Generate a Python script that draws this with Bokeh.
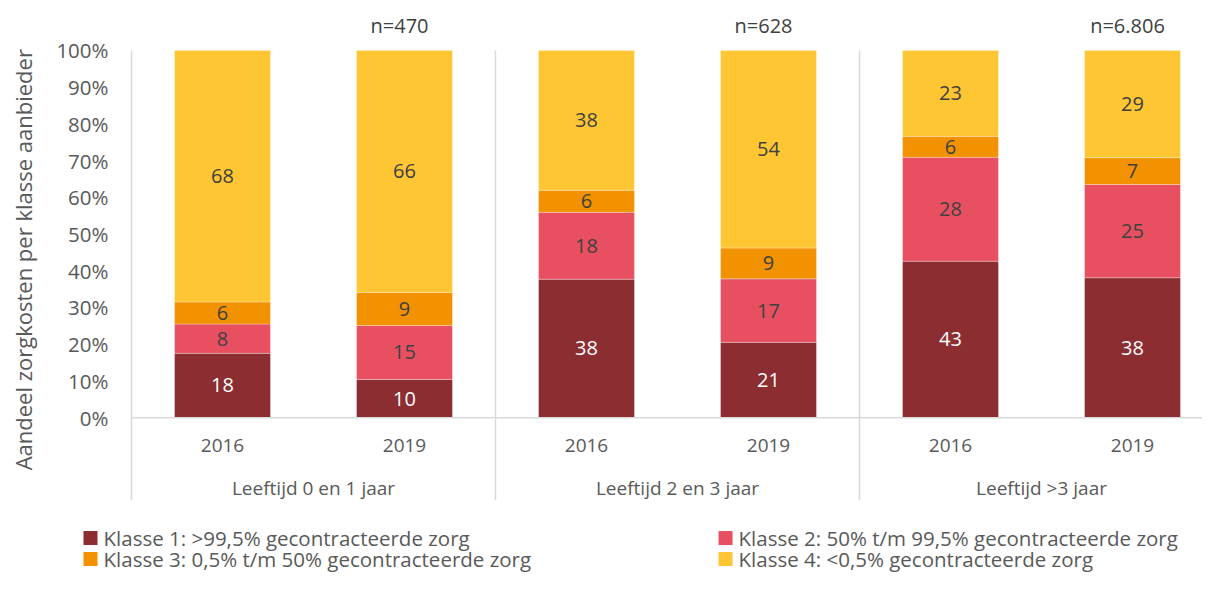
import math
from bokeh.plotting import figure
from bokeh.models import ColumnDataSource, Range1d
from bokeh.core.properties import value
from bokeh.embed import file_html
from bokeh.resources import INLINE

# ---------------- data ----------------
groups = ["Leeftijd 0 en 1 jaar", "Leeftijd 2 en 3 jaar", "Leeftijd >3 jaar"]
years = ["2016", "2019"]
group_n = ["n=470", "n=628", "n=6.806"]
classes = [
    "Klasse 1: >99,5% gecontracteerde zorg",
    "Klasse 2: 50% t/m 99,5% gecontracteerde zorg",
    "Klasse 3: 0,5% t/m 50% gecontracteerde zorg",
    "Klasse 4: <0,5% gecontracteerde zorg",
]
# bar order: g1-2016, g1-2019, g2-2016, g2-2019, g3-2016, g3-2019
klasse1 = [17.5, 10.4, 37.7, 20.5, 42.6, 38.1]
klasse2 = [8.0, 14.7, 18.2, 17.3, 28.3, 25.4]
klasse3 = [6.0, 9.0, 6.0, 8.4, 5.7, 7.3]
klasse4 = [68.5, 65.9, 38.1, 53.8, 23.4, 29.2]
label1 = ["18", "10", "38", "21", "43", "38"]
label2 = ["8", "15", "18", "17", "28", "25"]
label3 = ["6", "9", "6", "9", "6", "7"]
label4 = ["68", "66", "38", "54", "23", "29"]
y_ticks = [0, 10, 20, 30, 40, 50, 60, 70, 80, 90, 100]
y_tick_labels = [f"{t}%" for t in y_ticks]
y_title = "Aandeel zorgkosten per klasse aanbieder"

colors = ["#8C2D31", "#E85062", "#F39200", "#FFC633"]
label_colors = ["#FFFFFF", "#404040", "#404040", "#404040"]
axis_gray = "#D9D9D9"
text_gray = "#595959"
FONT = value("Open Sans")

# ---------------- figure ----------------
W, H = 1202, 573
p = figure(width=W, height=H, output_backend="svg", toolbar_location=None,
           x_range=Range1d(-0.7198, 5.8846), y_range=Range1d(-42.45, 113.6),
           min_border=0, min_border_left=0, min_border_right=0,
           min_border_top=0, min_border_bottom=0)
p.axis.visible = False
p.grid.visible = False
p.outline_line_color = None
p.background_fill_color = "white"
p.border_fill_color = "white"

n_bars = len(klasse1)
xs = [i + 0.5 for i in range(n_bars)]
src = ColumnDataSource(dict(x=xs, k1=klasse1, k2=klasse2, k3=klasse3, k4=klasse4))
p.vbar_stack(["k1", "k2", "k3", "k4"], x="x", width=0.527, color=colors,
             line_color="white", line_width=0.6, line_alpha=0.5, source=src)

# axis / separator lines
n_groups = len(groups)
sep_x = [2 * g for g in range(n_groups)]
p.segment(x0=sep_x, y0=[100] * n_groups, x1=sep_x, y1=[-22.45] * n_groups,
          line_color=axis_gray, line_width=1.5)
p.segment(x0=[0], y0=[0], x1=[2 * n_groups], y1=[0], line_color=axis_gray, line_width=1.5)

# segment value labels
vals = [klasse1, klasse2, klasse3, klasse4]
labs = [label1, label2, label3, label4]
base = [0.0] * n_bars
for ci in range(4):
    mids = [base[i] + vals[ci][i] / 2 for i in range(n_bars)]
    p.text(x=xs, y=mids, text=labs[ci], text_font=FONT, text_font_size="20px",
           text_color=label_colors[ci], text_align="center", text_baseline="middle")
    base = [base[i] + vals[ci][i] for i in range(n_bars)]

# y tick labels
p.text(x=[0] * len(y_ticks), y=y_ticks, text=y_tick_labels, x_offset=-23,
       text_font=FONT, text_font_size="20.5px", text_color=text_gray,
       text_align="right", text_baseline="middle")
# y title
p.text(x=[0], y=[43], text=[y_title], x_offset=-109, angle=math.pi / 2,
       text_font=FONT, text_font_size="22px", text_color=text_gray,
       text_align="center", text_baseline="middle")

# category labels
year_text = [years[i % 2] for i in range(n_bars)]
p.text(x=xs, y=[-7.5] * n_bars, text=year_text, text_font=FONT, text_font_size="19px",
       text_color=text_gray, text_align="center", text_baseline="middle")
gx = [2 * g + 1 for g in range(n_groups)]
p.text(x=gx, y=[-19.2] * n_groups, text=groups, text_font=FONT, text_font_size="19px",
       text_color=text_gray, text_align="center", text_baseline="middle")
# n labels above 2019 bars
nx = [2 * g + 1.5 for g in range(n_groups)]
p.text(x=nx, y=[106.8] * n_groups, text=group_n, x_offset=-5, text_font=FONT,
       text_font_size="20px", text_color="#404040", text_align="center",
       text_baseline="middle")

# legend (manual, two columns)
leg_x = [-0.2253, 3.264, -0.2253, 3.264]
leg_y = [-32.8, -32.8, -38.5, -38.5]
p.rect(x=leg_x, y=leg_y, width=14, height=14, width_units="screen",
       height_units="screen", fill_color=colors, line_color=None)
p.text(x=[lx + 0.0715 for lx in leg_x], y=leg_y, text=classes, text_font=FONT,
       text_font_size="20.5px", text_color=text_gray, text_align="left",
       text_baseline="middle")

open("out.html", "w").write(file_html(p, INLINE))
